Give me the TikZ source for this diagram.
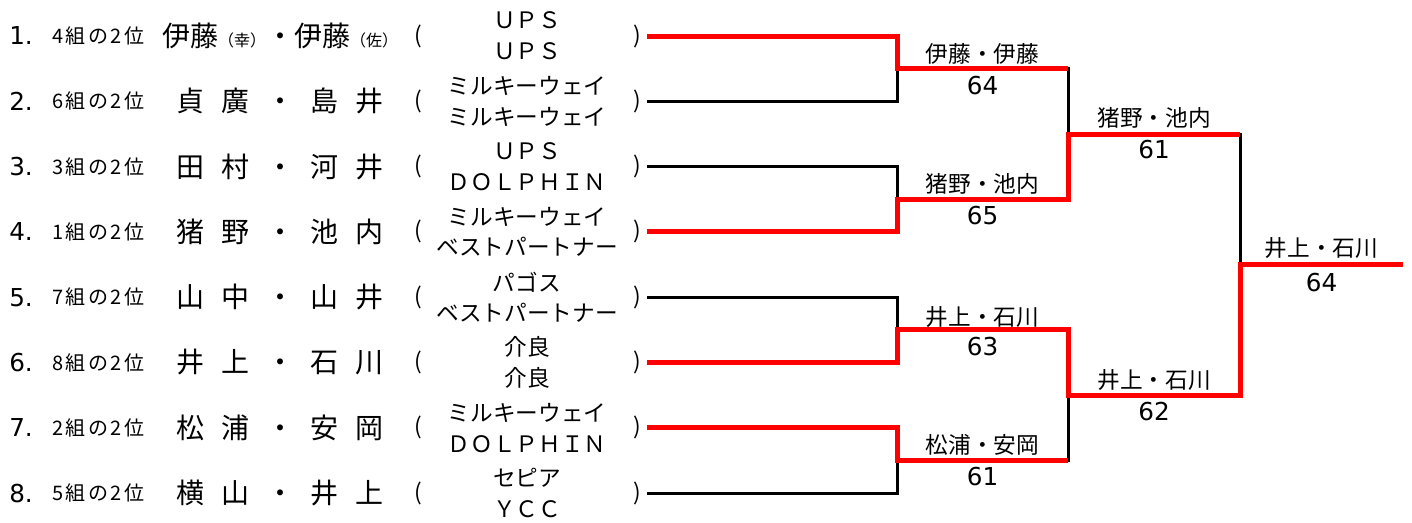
\documentclass[tikz,border=0pt]{standalone}
\usepackage{fontspec}
\setmainfont{Noto Sans CJK JP}
\newfontfamily\numfont{DejaVu Sans}
\newfontfamily\grpfont[LetterSpace=12]{Noto Sans CJK JP}
\newcommand\nsp{\hspace{0.6em}}
\newcommand\kakko[1]{{\fontsize{12}{12}\selectfont （#1）}}

\begin{document}
\begin{tikzpicture}[x=0.75pt,y=-0.75pt,
  lose/.style={line width=2.25pt,black},
  win/.style={line width=3.75pt,red},
  num/.style={inner sep=0pt,anchor=west,font=\numfont\fontsize{18.5}{20}\selectfont},
  grp/.style={inner sep=0pt,anchor=west,font=\grpfont\fontsize{15}{16}\selectfont},
  pair/.style={inner sep=0pt,font=\fontsize{21}{22}\selectfont},
  par/.style={inner sep=0pt,font=\fontsize{17}{18}\selectfont},
  team/.style={inner sep=0pt,align=center,font=\fontsize{17}{23}\selectfont},
  wname/.style={inner sep=0pt,font=\fontsize{17}{18}\selectfont},
  score/.style={inner sep=0pt,font=\numfont\fontsize{18.5}{20}\selectfont}]

\useasboundingbox (0,0) rectangle (1412,522);

\foreach \i/\g/\nm/\ta/\tb in {
  1/4/{伊藤\kakko{幸}・伊藤\kakko{佐}}/ＵＰＳ/ＵＰＳ,
  2/6/{貞\nsp 廣\nsp ・\nsp 島\nsp 井}/ミルキーウェイ/ミルキーウェイ,
  3/3/{田\nsp 村\nsp ・\nsp 河\nsp 井}/ＵＰＳ/ＤＯＬＰＨＩＮ,
  4/1/{猪\nsp 野\nsp ・\nsp 池\nsp 内}/ミルキーウェイ/ベストパートナー,
  5/7/{山\nsp 中\nsp ・\nsp 山\nsp 井}/パゴス/ベストパートナー,
  6/8/{井\nsp 上\nsp ・\nsp 石\nsp 川}/介良/介良,
  7/2/{松\nsp 浦\nsp ・\nsp 安\nsp 岡}/ミルキーウェイ/ＤＯＬＰＨＩＮ,
  8/5/{横\nsp 山\nsp ・\nsp 井\nsp 上}/セピア/ＹＣＣ} {
  \pgfmathsetmacro\yy{36+65.3*(\i-1)}
  \node[num] (num\i) at (9,\yy) {\i.};
  \node[grp] (grp\i) at (52,\yy) {\g 組の2位};
  \node[pair] (name\i) at (280,\yy) {\nm};
  \node[par] (lp\i) at (418,\yy) {(};
  \node[team] (team\i) at (527,\yy) {\ta\\\tb};
  \node[par] (rp\i) at (637,\yy) {)};
  \coordinate (e\i) at (647,\yy);
}

\coordinate (j1) at (897,68.7);
\coordinate (j2) at (897,199.3);
\coordinate (j3) at (897,329.9);
\coordinate (j4) at (897,460.5);
\coordinate (k1) at (1068,134);
\coordinate (k2) at (1068,395.2);
\coordinate (f) at (1240,264.6);
\coordinate (fin) at (1403,264.6);

\draw[lose] (e1) -| (j1) |- (e2);
\draw[lose] (e3) -| (j2) |- (e4);
\draw[lose] (e5) -| (j3) |- (e6);
\draw[lose] (e7) -| (j4) |- (e8);
\draw[lose] (j1) -| (k1) |- (j2);
\draw[lose] (j3) -| (k2) |- (j4);
\draw[lose] (k1) -| (f) |- (k2);

\draw[win] (e1) -| (j1) -- (j1 -| k1);
\draw[win] (e4) -| (j2) -| (k1) -- (k1 -| f);
\draw[win] (e6) -| (j3) -| (k2) -| (f) -- (fin);
\draw[win] (e7) -| (j4) -- (j4 -| k2);

\node[wname] (w1) at (982.5,54) {伊藤・伊藤};
\node[score] (s1) at (982.5,86) {64};
\node[wname] (w2) at (982.5,184) {猪野・池内};
\node[score] (s2) at (982.5,216) {65};
\node[wname] (w3) at (982.5,317) {井上・石川};
\node[score] (s3) at (982.5,347) {63};
\node[wname] (w4) at (982.5,445) {松浦・安岡};
\node[score] (s4) at (982.5,477) {61};
\node[wname] (w5) at (1154,118) {猪野・池内};
\node[score] (s5) at (1154,150) {61};
\node[wname] (w6) at (1154,380) {井上・石川};
\node[score] (s6) at (1154,412) {62};
\node[wname] (w7) at (1321.5,248) {井上・石川};
\node[score] (s7) at (1321.5,283) {64};

\end{tikzpicture}
\end{document}
